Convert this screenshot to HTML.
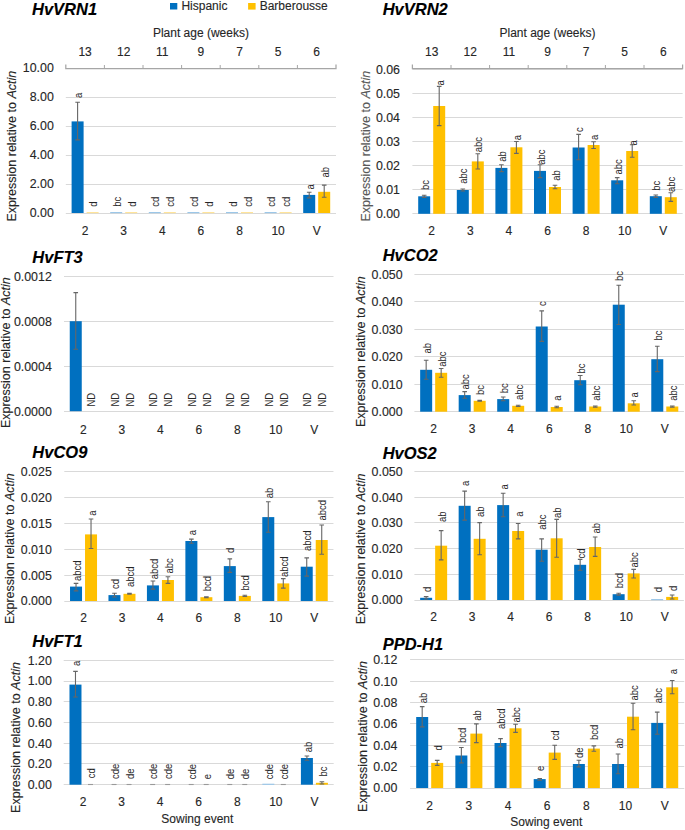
<!DOCTYPE html>
<html><head><meta charset="utf-8"><style>
html,body{margin:0;padding:0;background:#fff;width:685px;height:830px;overflow:hidden}
svg{display:block;font-family:"Liberation Sans", sans-serif}
text{stroke-width:0.12px}
</style></head><body>
<svg width="685" height="830" viewBox="0 0 685 830">
<rect width="685" height="830" fill="#fff"/>
<line x1="65.80" y1="213.50" x2="336.00" y2="213.50" stroke="#d9d9d9" stroke-width="1"/>
<text x="53.80" y="217.40" text-anchor="end" font-size="12.4" fill="#262626" stroke="#262626">0.00</text>
<line x1="65.80" y1="184.50" x2="336.00" y2="184.50" stroke="#d9d9d9" stroke-width="1"/>
<text x="53.80" y="188.40" text-anchor="end" font-size="12.4" fill="#262626" stroke="#262626">2.00</text>
<line x1="65.80" y1="155.50" x2="336.00" y2="155.50" stroke="#d9d9d9" stroke-width="1"/>
<text x="53.80" y="159.40" text-anchor="end" font-size="12.4" fill="#262626" stroke="#262626">4.00</text>
<line x1="65.80" y1="126.50" x2="336.00" y2="126.50" stroke="#d9d9d9" stroke-width="1"/>
<text x="53.80" y="130.40" text-anchor="end" font-size="12.4" fill="#262626" stroke="#262626">6.00</text>
<line x1="65.80" y1="97.50" x2="336.00" y2="97.50" stroke="#d9d9d9" stroke-width="1"/>
<text x="53.80" y="101.40" text-anchor="end" font-size="12.4" fill="#262626" stroke="#262626">8.00</text>
<line x1="65.80" y1="68.50" x2="336.00" y2="68.50" stroke="#d9d9d9" stroke-width="1"/>
<text x="53.80" y="72.40" text-anchor="end" font-size="12.4" fill="#262626" stroke="#262626">10.00</text>
<text x="32.00" y="15.30" font-size="16.5" font-weight="bold" font-style="italic" fill="#000" stroke="#000">HvVRN1</text>
<text transform="translate(16.20,146.20) rotate(-90)" text-anchor="middle" font-size="12.5" fill="#262626" stroke="#262626">Expression relative to <tspan font-style="italic">Actin</tspan></text>
<text x="85.10" y="234.70" text-anchor="middle" font-size="12" fill="#262626" stroke="#262626">2</text>
<text x="123.70" y="234.70" text-anchor="middle" font-size="12" fill="#262626" stroke="#262626">3</text>
<text x="162.30" y="234.70" text-anchor="middle" font-size="12" fill="#262626" stroke="#262626">4</text>
<text x="200.90" y="234.70" text-anchor="middle" font-size="12" fill="#262626" stroke="#262626">6</text>
<text x="239.50" y="234.70" text-anchor="middle" font-size="12" fill="#262626" stroke="#262626">8</text>
<text x="278.10" y="234.70" text-anchor="middle" font-size="12" fill="#262626" stroke="#262626">10</text>
<text x="316.70" y="234.70" text-anchor="middle" font-size="12" fill="#262626" stroke="#262626">V</text>
<rect x="71.60" y="121.40" width="12" height="91.60" fill="#0070C0"/>
<path d="M75.30 102.30H79.90M77.60 102.30V139.90M75.30 139.90H79.90" stroke="#666666" stroke-width="1.1" fill="none"/>
<text transform="translate(82.20,97.90) rotate(-90) scale(0.92,1)" font-size="10.3" fill="#262626">a</text>
<rect x="86.60" y="212.00" width="12" height="1.2" fill="#ffe49a"/>
<text transform="translate(97.20,206.80) rotate(-90) scale(0.92,1)" font-size="10.3" fill="#262626">d</text>
<rect x="110.20" y="212.00" width="12" height="1.2" fill="#9cc7e8"/>
<text transform="translate(120.80,206.80) rotate(-90) scale(0.92,1)" font-size="10.3" fill="#262626">bc</text>
<rect x="125.20" y="212.00" width="12" height="1.2" fill="#ffe49a"/>
<text transform="translate(135.80,206.80) rotate(-90) scale(0.92,1)" font-size="10.3" fill="#262626">d</text>
<rect x="148.80" y="212.00" width="12" height="1.2" fill="#9cc7e8"/>
<text transform="translate(159.40,206.80) rotate(-90) scale(0.92,1)" font-size="10.3" fill="#262626">cd</text>
<rect x="163.80" y="212.00" width="12" height="1.2" fill="#ffe49a"/>
<text transform="translate(174.40,206.80) rotate(-90) scale(0.92,1)" font-size="10.3" fill="#262626">cd</text>
<rect x="187.40" y="212.00" width="12" height="1.2" fill="#9cc7e8"/>
<text transform="translate(198.00,206.80) rotate(-90) scale(0.92,1)" font-size="10.3" fill="#262626">cd</text>
<rect x="202.40" y="212.00" width="12" height="1.2" fill="#ffe49a"/>
<text transform="translate(213.00,206.80) rotate(-90) scale(0.92,1)" font-size="10.3" fill="#262626">d</text>
<rect x="226.00" y="212.00" width="12" height="1.2" fill="#9cc7e8"/>
<text transform="translate(236.60,206.80) rotate(-90) scale(0.92,1)" font-size="10.3" fill="#262626">d</text>
<rect x="241.00" y="212.00" width="12" height="1.2" fill="#ffe49a"/>
<text transform="translate(251.60,206.80) rotate(-90) scale(0.92,1)" font-size="10.3" fill="#262626">cd</text>
<rect x="264.60" y="212.00" width="12" height="1.2" fill="#9cc7e8"/>
<text transform="translate(275.20,206.80) rotate(-90) scale(0.92,1)" font-size="10.3" fill="#262626">cd</text>
<rect x="279.60" y="212.00" width="12" height="1.2" fill="#ffe49a"/>
<text transform="translate(290.20,206.80) rotate(-90) scale(0.92,1)" font-size="10.3" fill="#262626">cd</text>
<rect x="303.20" y="194.90" width="12" height="18.10" fill="#0070C0"/>
<path d="M306.90 192.30H311.50M309.20 192.30V197.90M306.90 197.90H311.50" stroke="#666666" stroke-width="1.1" fill="none"/>
<text transform="translate(313.80,189.50) rotate(-90) scale(0.92,1)" font-size="10.3" fill="#262626">a</text>
<rect x="318.20" y="191.80" width="12" height="21.20" fill="#FFC000"/>
<path d="M321.90 185.10H326.50M324.20 185.10V197.20M321.90 197.20H326.50" stroke="#666666" stroke-width="1.1" fill="none"/>
<text transform="translate(328.80,177.50) rotate(-90) scale(0.92,1)" font-size="10.3" fill="#262626">ab</text>
<line x1="412.40" y1="213.50" x2="682.60" y2="213.50" stroke="#d9d9d9" stroke-width="1"/>
<text x="400.00" y="218.20" text-anchor="end" font-size="12.4" fill="#262626" stroke="#262626">0.00</text>
<line x1="412.40" y1="189.50" x2="682.60" y2="189.50" stroke="#d9d9d9" stroke-width="1"/>
<text x="400.00" y="194.10" text-anchor="end" font-size="12.4" fill="#262626" stroke="#262626">0.01</text>
<line x1="412.40" y1="165.50" x2="682.60" y2="165.50" stroke="#d9d9d9" stroke-width="1"/>
<text x="400.00" y="170.00" text-anchor="end" font-size="12.4" fill="#262626" stroke="#262626">0.02</text>
<line x1="412.40" y1="141.50" x2="682.60" y2="141.50" stroke="#d9d9d9" stroke-width="1"/>
<text x="400.00" y="145.90" text-anchor="end" font-size="12.4" fill="#262626" stroke="#262626">0.03</text>
<line x1="412.40" y1="117.50" x2="682.60" y2="117.50" stroke="#d9d9d9" stroke-width="1"/>
<text x="400.00" y="121.80" text-anchor="end" font-size="12.4" fill="#262626" stroke="#262626">0.04</text>
<line x1="412.40" y1="93.50" x2="682.60" y2="93.50" stroke="#d9d9d9" stroke-width="1"/>
<text x="400.00" y="97.70" text-anchor="end" font-size="12.4" fill="#262626" stroke="#262626">0.05</text>
<line x1="412.40" y1="69.50" x2="682.60" y2="69.50" stroke="#d9d9d9" stroke-width="1"/>
<text x="400.00" y="73.60" text-anchor="end" font-size="12.4" fill="#262626" stroke="#262626">0.06</text>
<text x="382.70" y="15.40" font-size="16.5" font-weight="bold" font-style="italic" fill="#000" stroke="#000">HvVRN2</text>
<text transform="translate(369.80,146.20) rotate(-90)" text-anchor="middle" font-size="12.5" fill="#595959" stroke="#595959">Expression relative to <tspan font-style="italic">Actin</tspan></text>
<text x="431.70" y="234.70" text-anchor="middle" font-size="12" fill="#262626" stroke="#262626">2</text>
<text x="470.30" y="234.70" text-anchor="middle" font-size="12" fill="#262626" stroke="#262626">3</text>
<text x="508.90" y="234.70" text-anchor="middle" font-size="12" fill="#262626" stroke="#262626">4</text>
<text x="547.50" y="234.70" text-anchor="middle" font-size="12" fill="#262626" stroke="#262626">6</text>
<text x="586.10" y="234.70" text-anchor="middle" font-size="12" fill="#262626" stroke="#262626">8</text>
<text x="624.70" y="234.70" text-anchor="middle" font-size="12" fill="#262626" stroke="#262626">10</text>
<text x="663.30" y="234.70" text-anchor="middle" font-size="12" fill="#262626" stroke="#262626">V</text>
<rect x="418.20" y="196.30" width="12" height="17.50" fill="#0070C0"/>
<path d="M421.90 195.30H426.50M424.20 195.30V197.40M421.90 197.40H426.50" stroke="#666666" stroke-width="1.1" fill="none"/>
<text transform="translate(428.80,190.10) rotate(-90) scale(0.92,1)" font-size="10.3" fill="#262626">bc</text>
<rect x="433.20" y="106.00" width="12" height="107.80" fill="#FFC000"/>
<path d="M436.90 86.40H441.50M439.20 86.40V125.60M436.90 125.60H441.50" stroke="#666666" stroke-width="1.1" fill="none"/>
<text transform="translate(443.80,85.60) rotate(-90) scale(0.92,1)" font-size="10.3" fill="#262626">a</text>
<rect x="456.80" y="190.00" width="12" height="23.80" fill="#0070C0"/>
<path d="M460.50 189.00H465.10M462.80 189.00V191.00M460.50 191.00H465.10" stroke="#666666" stroke-width="1.1" fill="none"/>
<text transform="translate(467.40,183.80) rotate(-90) scale(0.92,1)" font-size="10.3" fill="#262626">abc</text>
<rect x="471.80" y="161.40" width="12" height="52.40" fill="#FFC000"/>
<path d="M475.50 153.70H480.10M477.80 153.70V169.00M475.50 169.00H480.10" stroke="#666666" stroke-width="1.1" fill="none"/>
<text transform="translate(482.40,152.30) rotate(-90) scale(0.92,1)" font-size="10.3" fill="#262626">abc</text>
<rect x="495.40" y="167.90" width="12" height="45.90" fill="#0070C0"/>
<path d="M499.10 164.70H503.70M501.40 164.70V171.60M499.10 171.60H503.70" stroke="#666666" stroke-width="1.1" fill="none"/>
<text transform="translate(506.00,161.70) rotate(-90) scale(0.92,1)" font-size="10.3" fill="#262626">ab</text>
<rect x="510.40" y="147.30" width="12" height="66.50" fill="#FFC000"/>
<path d="M514.10 141.50H518.70M516.40 141.50V153.40M514.10 153.40H518.70" stroke="#666666" stroke-width="1.1" fill="none"/>
<text transform="translate(521.00,140.30) rotate(-90) scale(0.92,1)" font-size="10.3" fill="#262626">a</text>
<rect x="534.00" y="170.90" width="12" height="42.90" fill="#0070C0"/>
<path d="M537.70 164.70H542.30M540.00 164.70V177.60M537.70 177.60H542.30" stroke="#666666" stroke-width="1.1" fill="none"/>
<text transform="translate(544.60,164.70) rotate(-90) scale(0.92,1)" font-size="10.3" fill="#262626">abc</text>
<rect x="549.00" y="187.00" width="12" height="26.80" fill="#FFC000"/>
<path d="M552.70 185.30H557.30M555.00 185.30V188.70M552.70 188.70H557.30" stroke="#666666" stroke-width="1.1" fill="none"/>
<text transform="translate(559.60,180.80) rotate(-90) scale(0.92,1)" font-size="10.3" fill="#262626">ab</text>
<rect x="572.60" y="147.50" width="12" height="66.30" fill="#0070C0"/>
<path d="M576.30 134.40H580.90M578.60 134.40V159.70M576.30 159.70H580.90" stroke="#666666" stroke-width="1.1" fill="none"/>
<text transform="translate(583.20,131.90) rotate(-90) scale(0.92,1)" font-size="10.3" fill="#262626">c</text>
<rect x="587.60" y="145.00" width="12" height="68.80" fill="#FFC000"/>
<path d="M591.30 141.80H595.90M593.60 141.80V148.50M591.30 148.50H595.90" stroke="#666666" stroke-width="1.1" fill="none"/>
<text transform="translate(598.20,139.90) rotate(-90) scale(0.92,1)" font-size="10.3" fill="#262626">a</text>
<rect x="611.20" y="180.30" width="12" height="33.50" fill="#0070C0"/>
<path d="M614.90 177.60H619.50M617.20 177.60V183.80M614.90 183.80H619.50" stroke="#666666" stroke-width="1.1" fill="none"/>
<text transform="translate(621.80,174.60) rotate(-90) scale(0.92,1)" font-size="10.3" fill="#262626">abc</text>
<rect x="626.20" y="151.00" width="12" height="62.80" fill="#FFC000"/>
<path d="M629.90 144.80H634.50M632.20 144.80V157.20M629.90 157.20H634.50" stroke="#666666" stroke-width="1.1" fill="none"/>
<text transform="translate(636.80,145.60) rotate(-90) scale(0.92,1)" font-size="10.3" fill="#262626">a</text>
<rect x="649.80" y="196.20" width="12" height="17.60" fill="#0070C0"/>
<path d="M653.50 195.00H658.10M655.80 195.00V197.40M653.50 197.40H658.10" stroke="#666666" stroke-width="1.1" fill="none"/>
<text transform="translate(660.40,190.70) rotate(-90) scale(0.92,1)" font-size="10.3" fill="#262626">bc</text>
<rect x="664.80" y="197.20" width="12" height="16.60" fill="#FFC000"/>
<path d="M668.50 192.70H673.10M670.80 192.70V201.40M668.50 201.40H673.10" stroke="#666666" stroke-width="1.1" fill="none"/>
<text transform="translate(675.40,192.00) rotate(-90) scale(0.92,1)" font-size="10.3" fill="#262626">abc</text>
<line x1="64.00" y1="411.50" x2="333.50" y2="411.50" stroke="#d9d9d9" stroke-width="1"/>
<text x="51.80" y="415.60" text-anchor="end" font-size="12.4" fill="#262626" stroke="#262626">0.0000</text>
<line x1="64.00" y1="366.50" x2="333.50" y2="366.50" stroke="#d9d9d9" stroke-width="1"/>
<text x="51.80" y="370.60" text-anchor="end" font-size="12.4" fill="#262626" stroke="#262626">0.0004</text>
<line x1="64.00" y1="321.50" x2="333.50" y2="321.50" stroke="#d9d9d9" stroke-width="1"/>
<text x="51.80" y="325.60" text-anchor="end" font-size="12.4" fill="#262626" stroke="#262626">0.0008</text>
<line x1="64.00" y1="276.50" x2="333.50" y2="276.50" stroke="#d9d9d9" stroke-width="1"/>
<text x="51.80" y="280.60" text-anchor="end" font-size="12.4" fill="#262626" stroke="#262626">0.0012</text>
<text x="32.30" y="262.50" font-size="16.5" font-weight="bold" font-style="italic" fill="#000" stroke="#000">HvFT3</text>
<text transform="translate(9.60,352.70) rotate(-90)" text-anchor="middle" font-size="12.5" fill="#262626" stroke="#262626">Expression relative to <tspan font-style="italic">Actin</tspan></text>
<text x="83.25" y="433.50" text-anchor="middle" font-size="12" fill="#262626" stroke="#262626">2</text>
<text x="121.75" y="433.50" text-anchor="middle" font-size="12" fill="#262626" stroke="#262626">3</text>
<text x="160.25" y="433.50" text-anchor="middle" font-size="12" fill="#262626" stroke="#262626">4</text>
<text x="198.75" y="433.50" text-anchor="middle" font-size="12" fill="#262626" stroke="#262626">6</text>
<text x="237.25" y="433.50" text-anchor="middle" font-size="12" fill="#262626" stroke="#262626">8</text>
<text x="275.75" y="433.50" text-anchor="middle" font-size="12" fill="#262626" stroke="#262626">10</text>
<text x="314.25" y="433.50" text-anchor="middle" font-size="12" fill="#262626" stroke="#262626">V</text>
<rect x="69.75" y="321.20" width="12" height="90.00" fill="#0070C0"/>
<path d="M73.45 292.60H78.05M75.75 292.60V349.20M73.45 349.20H78.05" stroke="#666666" stroke-width="1.1" fill="none"/>
<text transform="translate(95.35,406.50) rotate(-90) scale(0.92,1)" font-size="10.3" fill="#262626">ND</text>
<text transform="translate(118.85,406.50) rotate(-90) scale(0.92,1)" font-size="10.3" fill="#262626">ND</text>
<text transform="translate(133.85,406.50) rotate(-90) scale(0.92,1)" font-size="10.3" fill="#262626">ND</text>
<text transform="translate(157.35,406.50) rotate(-90) scale(0.92,1)" font-size="10.3" fill="#262626">ND</text>
<text transform="translate(172.35,406.50) rotate(-90) scale(0.92,1)" font-size="10.3" fill="#262626">ND</text>
<text transform="translate(195.85,406.50) rotate(-90) scale(0.92,1)" font-size="10.3" fill="#262626">ND</text>
<text transform="translate(210.85,406.50) rotate(-90) scale(0.92,1)" font-size="10.3" fill="#262626">ND</text>
<text transform="translate(234.35,406.50) rotate(-90) scale(0.92,1)" font-size="10.3" fill="#262626">ND</text>
<text transform="translate(249.35,406.50) rotate(-90) scale(0.92,1)" font-size="10.3" fill="#262626">ND</text>
<text transform="translate(272.85,406.50) rotate(-90) scale(0.92,1)" font-size="10.3" fill="#262626">ND</text>
<text transform="translate(287.85,406.50) rotate(-90) scale(0.92,1)" font-size="10.3" fill="#262626">ND</text>
<text transform="translate(311.35,406.50) rotate(-90) scale(0.92,1)" font-size="10.3" fill="#262626">ND</text>
<text transform="translate(326.35,406.50) rotate(-90) scale(0.92,1)" font-size="10.3" fill="#262626">ND</text>
<line x1="414.40" y1="411.50" x2="684.04" y2="411.50" stroke="#d9d9d9" stroke-width="1"/>
<text x="402.60" y="416.10" text-anchor="end" font-size="12.4" fill="#262626" stroke="#262626">0.000</text>
<line x1="414.40" y1="384.50" x2="684.04" y2="384.50" stroke="#d9d9d9" stroke-width="1"/>
<text x="402.60" y="388.62" text-anchor="end" font-size="12.4" fill="#262626" stroke="#262626">0.010</text>
<line x1="414.40" y1="356.50" x2="684.04" y2="356.50" stroke="#d9d9d9" stroke-width="1"/>
<text x="402.60" y="361.14" text-anchor="end" font-size="12.4" fill="#262626" stroke="#262626">0.020</text>
<line x1="414.40" y1="329.50" x2="684.04" y2="329.50" stroke="#d9d9d9" stroke-width="1"/>
<text x="402.60" y="333.66" text-anchor="end" font-size="12.4" fill="#262626" stroke="#262626">0.030</text>
<line x1="414.40" y1="301.50" x2="684.04" y2="301.50" stroke="#d9d9d9" stroke-width="1"/>
<text x="402.60" y="306.18" text-anchor="end" font-size="12.4" fill="#262626" stroke="#262626">0.040</text>
<line x1="414.40" y1="274.50" x2="684.04" y2="274.50" stroke="#d9d9d9" stroke-width="1"/>
<text x="402.60" y="278.70" text-anchor="end" font-size="12.4" fill="#262626" stroke="#262626">0.050</text>
<text x="382.70" y="261.10" font-size="16.5" font-weight="bold" font-style="italic" fill="#000" stroke="#000">HvCO2</text>
<text transform="translate(365.40,351.65) rotate(-90)" text-anchor="middle" font-size="12.5" fill="#262626" stroke="#262626">Expression relative to <tspan font-style="italic">Actin</tspan></text>
<text x="433.66" y="433.00" text-anchor="middle" font-size="12" fill="#262626" stroke="#262626">2</text>
<text x="472.18" y="433.00" text-anchor="middle" font-size="12" fill="#262626" stroke="#262626">3</text>
<text x="510.70" y="433.00" text-anchor="middle" font-size="12" fill="#262626" stroke="#262626">4</text>
<text x="549.22" y="433.00" text-anchor="middle" font-size="12" fill="#262626" stroke="#262626">6</text>
<text x="587.74" y="433.00" text-anchor="middle" font-size="12" fill="#262626" stroke="#262626">8</text>
<text x="626.26" y="433.00" text-anchor="middle" font-size="12" fill="#262626" stroke="#262626">10</text>
<text x="664.78" y="433.00" text-anchor="middle" font-size="12" fill="#262626" stroke="#262626">V</text>
<rect x="420.16" y="369.80" width="12" height="41.90" fill="#0070C0"/>
<path d="M423.86 360.30H428.46M426.16 360.30V379.20M423.86 379.20H428.46" stroke="#666666" stroke-width="1.1" fill="none"/>
<text transform="translate(430.76,353.60) rotate(-90) scale(0.92,1)" font-size="10.3" fill="#262626">ab</text>
<rect x="435.16" y="372.80" width="12" height="38.90" fill="#FFC000"/>
<path d="M438.86 368.50H443.46M441.16 368.50V377.20M438.86 377.20H443.46" stroke="#666666" stroke-width="1.1" fill="none"/>
<text transform="translate(445.76,366.80) rotate(-90) scale(0.92,1)" font-size="10.3" fill="#262626">abc</text>
<rect x="458.68" y="395.10" width="12" height="16.60" fill="#0070C0"/>
<path d="M462.38 391.60H466.98M464.68 391.60V398.30M462.38 398.30H466.98" stroke="#666666" stroke-width="1.1" fill="none"/>
<text transform="translate(469.28,389.60) rotate(-90) scale(0.92,1)" font-size="10.3" fill="#262626">abc</text>
<rect x="473.68" y="400.80" width="12" height="10.90" fill="#FFC000"/>
<path d="M477.38 400.30H481.98M479.68 400.30V401.30M477.38 401.30H481.98" stroke="#666666" stroke-width="1.1" fill="none"/>
<text transform="translate(484.28,395.10) rotate(-90) scale(0.92,1)" font-size="10.3" fill="#262626">bc</text>
<rect x="497.20" y="399.10" width="12" height="12.60" fill="#0070C0"/>
<path d="M500.90 397.00H505.50M503.20 397.00V400.80M500.90 400.80H505.50" stroke="#666666" stroke-width="1.1" fill="none"/>
<text transform="translate(507.80,393.30) rotate(-90) scale(0.92,1)" font-size="10.3" fill="#262626">bc</text>
<rect x="512.20" y="405.80" width="12" height="5.90" fill="#FFC000"/>
<path d="M515.90 405.30H520.50M518.20 405.30V406.50M515.90 406.50H520.50" stroke="#666666" stroke-width="1.1" fill="none"/>
<text transform="translate(522.80,400.00) rotate(-90) scale(0.92,1)" font-size="10.3" fill="#262626">abc</text>
<rect x="535.72" y="326.50" width="12" height="85.20" fill="#0070C0"/>
<path d="M539.42 310.90H544.02M541.72 310.90V341.40M539.42 341.40H544.02" stroke="#666666" stroke-width="1.1" fill="none"/>
<text transform="translate(546.32,305.90) rotate(-90) scale(0.92,1)" font-size="10.3" fill="#262626">c</text>
<rect x="550.72" y="407.00" width="12" height="4.70" fill="#FFC000"/>
<path d="M554.42 406.30H559.02M556.72 406.30V407.80M554.42 407.80H559.02" stroke="#666666" stroke-width="1.1" fill="none"/>
<text transform="translate(561.32,400.80) rotate(-90) scale(0.92,1)" font-size="10.3" fill="#262626">a</text>
<rect x="574.24" y="380.20" width="12" height="31.50" fill="#0070C0"/>
<path d="M577.94 375.50H582.54M580.24 375.50V384.70M577.94 384.70H582.54" stroke="#666666" stroke-width="1.1" fill="none"/>
<text transform="translate(584.84,373.50) rotate(-90) scale(0.92,1)" font-size="10.3" fill="#262626">bc</text>
<rect x="589.24" y="406.50" width="12" height="5.20" fill="#FFC000"/>
<path d="M592.94 406.00H597.54M595.24 406.00V407.30M592.94 407.30H597.54" stroke="#666666" stroke-width="1.1" fill="none"/>
<text transform="translate(599.84,400.80) rotate(-90) scale(0.92,1)" font-size="10.3" fill="#262626">abc</text>
<rect x="612.76" y="304.70" width="12" height="107.00" fill="#0070C0"/>
<path d="M616.46 285.30H621.06M618.76 285.30V324.50M616.46 324.50H621.06" stroke="#666666" stroke-width="1.1" fill="none"/>
<text transform="translate(623.36,281.10) rotate(-90) scale(0.92,1)" font-size="10.3" fill="#262626">bc</text>
<rect x="627.76" y="403.30" width="12" height="8.40" fill="#FFC000"/>
<path d="M631.46 400.80H636.06M633.76 400.80V405.00M631.46 405.00H636.06" stroke="#666666" stroke-width="1.1" fill="none"/>
<text transform="translate(638.36,397.60) rotate(-90) scale(0.92,1)" font-size="10.3" fill="#262626">a</text>
<rect x="651.28" y="359.20" width="12" height="52.50" fill="#0070C0"/>
<path d="M654.98 346.30H659.58M657.28 346.30V371.60M654.98 371.60H659.58" stroke="#666666" stroke-width="1.1" fill="none"/>
<text transform="translate(661.88,340.60) rotate(-90) scale(0.92,1)" font-size="10.3" fill="#262626">bc</text>
<rect x="666.28" y="406.50" width="12" height="5.20" fill="#FFC000"/>
<path d="M669.98 406.00H674.58M672.28 406.00V407.20M669.98 407.20H674.58" stroke="#666666" stroke-width="1.1" fill="none"/>
<text transform="translate(676.88,400.80) rotate(-90) scale(0.92,1)" font-size="10.3" fill="#262626">abc</text>
<line x1="64.30" y1="601.50" x2="333.45" y2="601.50" stroke="#d9d9d9" stroke-width="1"/>
<text x="51.80" y="605.40" text-anchor="end" font-size="12.4" fill="#262626" stroke="#262626">0.000</text>
<line x1="64.30" y1="575.50" x2="333.45" y2="575.50" stroke="#d9d9d9" stroke-width="1"/>
<text x="51.80" y="579.54" text-anchor="end" font-size="12.4" fill="#262626" stroke="#262626">0.005</text>
<line x1="64.30" y1="549.50" x2="333.45" y2="549.50" stroke="#d9d9d9" stroke-width="1"/>
<text x="51.80" y="553.68" text-anchor="end" font-size="12.4" fill="#262626" stroke="#262626">0.010</text>
<line x1="64.30" y1="523.50" x2="333.45" y2="523.50" stroke="#d9d9d9" stroke-width="1"/>
<text x="51.80" y="527.82" text-anchor="end" font-size="12.4" fill="#262626" stroke="#262626">0.015</text>
<line x1="64.30" y1="497.50" x2="333.45" y2="497.50" stroke="#d9d9d9" stroke-width="1"/>
<text x="51.80" y="501.96" text-anchor="end" font-size="12.4" fill="#262626" stroke="#262626">0.020</text>
<line x1="64.30" y1="471.50" x2="333.45" y2="471.50" stroke="#d9d9d9" stroke-width="1"/>
<text x="51.80" y="476.10" text-anchor="end" font-size="12.4" fill="#262626" stroke="#262626">0.025</text>
<text x="32.30" y="458.30" font-size="16.5" font-weight="bold" font-style="italic" fill="#000" stroke="#000">HvCO9</text>
<text transform="translate(13.90,548.70) rotate(-90)" text-anchor="middle" font-size="12.5" fill="#262626" stroke="#262626">Expression relative to <tspan font-style="italic">Actin</tspan></text>
<text x="83.53" y="622.40" text-anchor="middle" font-size="12" fill="#262626" stroke="#262626">2</text>
<text x="121.97" y="622.40" text-anchor="middle" font-size="12" fill="#262626" stroke="#262626">3</text>
<text x="160.43" y="622.40" text-anchor="middle" font-size="12" fill="#262626" stroke="#262626">4</text>
<text x="198.88" y="622.40" text-anchor="middle" font-size="12" fill="#262626" stroke="#262626">6</text>
<text x="237.32" y="622.40" text-anchor="middle" font-size="12" fill="#262626" stroke="#262626">8</text>
<text x="275.78" y="622.40" text-anchor="middle" font-size="12" fill="#262626" stroke="#262626">10</text>
<text x="314.23" y="622.40" text-anchor="middle" font-size="12" fill="#262626" stroke="#262626">V</text>
<rect x="70.03" y="586.60" width="12" height="14.40" fill="#0070C0"/>
<path d="M73.73 583.40H78.33M76.03 583.40V590.90M73.73 590.90H78.33" stroke="#666666" stroke-width="1.1" fill="none"/>
<text transform="translate(80.62,581.00) rotate(-90) scale(0.92,1)" font-size="10.3" fill="#262626">abcd</text>
<rect x="85.03" y="534.40" width="12" height="66.60" fill="#FFC000"/>
<path d="M88.73 519.00H93.33M91.03 519.00V548.50M88.73 548.50H93.33" stroke="#666666" stroke-width="1.1" fill="none"/>
<text transform="translate(95.62,515.80) rotate(-90) scale(0.92,1)" font-size="10.3" fill="#262626">a</text>
<rect x="108.47" y="595.10" width="12" height="5.90" fill="#0070C0"/>
<path d="M112.17 593.30H116.77M114.47 593.30V597.00M112.17 597.00H116.77" stroke="#666666" stroke-width="1.1" fill="none"/>
<text transform="translate(119.07,589.10) rotate(-90) scale(0.92,1)" font-size="10.3" fill="#262626">cd</text>
<rect x="123.47" y="593.80" width="12" height="7.20" fill="#FFC000"/>
<path d="M127.17 593.30H131.78M129.47 593.30V594.30M127.17 594.30H131.78" stroke="#666666" stroke-width="1.1" fill="none"/>
<text transform="translate(134.07,587.10) rotate(-90) scale(0.92,1)" font-size="10.3" fill="#262626">abcd</text>
<rect x="146.93" y="585.40" width="12" height="15.60" fill="#0070C0"/>
<path d="M150.62 581.00H155.23M152.93 581.00V589.10M150.62 589.10H155.23" stroke="#666666" stroke-width="1.1" fill="none"/>
<text transform="translate(157.53,579.20) rotate(-90) scale(0.92,1)" font-size="10.3" fill="#262626">abcd</text>
<rect x="161.93" y="580.00" width="12" height="21.00" fill="#FFC000"/>
<path d="M165.62 576.70H170.23M167.93 576.70V583.40M165.62 583.40H170.23" stroke="#666666" stroke-width="1.1" fill="none"/>
<text transform="translate(172.53,573.60) rotate(-90) scale(0.92,1)" font-size="10.3" fill="#262626">abc</text>
<rect x="185.38" y="541.00" width="12" height="60.00" fill="#0070C0"/>
<path d="M189.07 539.10H193.68M191.38 539.10V543.20M189.07 543.20H193.68" stroke="#666666" stroke-width="1.1" fill="none"/>
<text transform="translate(195.97,535.30) rotate(-90) scale(0.92,1)" font-size="10.3" fill="#262626">a</text>
<rect x="200.38" y="597.20" width="12" height="3.80" fill="#FFC000"/>
<path d="M204.07 596.70H208.68M206.38 596.70V597.80M204.07 597.80H208.68" stroke="#666666" stroke-width="1.1" fill="none"/>
<text transform="translate(210.97,591.20) rotate(-90) scale(0.92,1)" font-size="10.3" fill="#262626">bcd</text>
<rect x="223.82" y="566.10" width="12" height="34.90" fill="#0070C0"/>
<path d="M227.52 558.90H232.12M229.82 558.90V572.40M227.52 572.40H232.12" stroke="#666666" stroke-width="1.1" fill="none"/>
<text transform="translate(234.42,552.90) rotate(-90) scale(0.92,1)" font-size="10.3" fill="#262626">d</text>
<rect x="238.82" y="595.90" width="12" height="5.10" fill="#FFC000"/>
<path d="M242.52 595.30H247.12M244.82 595.30V596.50M242.52 596.50H247.12" stroke="#666666" stroke-width="1.1" fill="none"/>
<text transform="translate(249.42,590.60) rotate(-90) scale(0.92,1)" font-size="10.3" fill="#262626">bcd</text>
<rect x="262.28" y="517.10" width="12" height="83.90" fill="#0070C0"/>
<path d="M265.98 501.70H270.58M268.28 501.70V532.20M265.98 532.20H270.58" stroke="#666666" stroke-width="1.1" fill="none"/>
<text transform="translate(272.88,498.30) rotate(-90) scale(0.92,1)" font-size="10.3" fill="#262626">ab</text>
<rect x="277.28" y="583.40" width="12" height="17.60" fill="#FFC000"/>
<path d="M280.98 578.60H285.58M283.28 578.60V588.10M280.98 588.10H285.58" stroke="#666666" stroke-width="1.1" fill="none"/>
<text transform="translate(287.88,577.10) rotate(-90) scale(0.92,1)" font-size="10.3" fill="#262626">abcd</text>
<rect x="300.73" y="566.70" width="12" height="34.30" fill="#0070C0"/>
<path d="M304.43 557.90H309.03M306.73 557.90V576.10M304.43 576.10H309.03" stroke="#666666" stroke-width="1.1" fill="none"/>
<text transform="translate(311.33,551.00) rotate(-90) scale(0.92,1)" font-size="10.3" fill="#262626">abcd</text>
<rect x="315.73" y="540.00" width="12" height="61.00" fill="#FFC000"/>
<path d="M319.43 525.00H324.03M321.73 525.00V554.20M319.43 554.20H324.03" stroke="#666666" stroke-width="1.1" fill="none"/>
<text transform="translate(326.33,520.60) rotate(-90) scale(0.92,1)" font-size="10.3" fill="#262626">abcd</text>
<line x1="414.40" y1="600.50" x2="683.90" y2="600.50" stroke="#d9d9d9" stroke-width="1"/>
<text x="402.60" y="604.40" text-anchor="end" font-size="12.4" fill="#262626" stroke="#262626">0.000</text>
<line x1="414.40" y1="574.50" x2="683.90" y2="574.50" stroke="#d9d9d9" stroke-width="1"/>
<text x="402.60" y="578.72" text-anchor="end" font-size="12.4" fill="#262626" stroke="#262626">0.010</text>
<line x1="414.40" y1="548.50" x2="683.90" y2="548.50" stroke="#d9d9d9" stroke-width="1"/>
<text x="402.60" y="553.04" text-anchor="end" font-size="12.4" fill="#262626" stroke="#262626">0.020</text>
<line x1="414.40" y1="522.50" x2="683.90" y2="522.50" stroke="#d9d9d9" stroke-width="1"/>
<text x="402.60" y="527.36" text-anchor="end" font-size="12.4" fill="#262626" stroke="#262626">0.030</text>
<line x1="414.40" y1="497.50" x2="683.90" y2="497.50" stroke="#d9d9d9" stroke-width="1"/>
<text x="402.60" y="501.68" text-anchor="end" font-size="12.4" fill="#262626" stroke="#262626">0.040</text>
<line x1="414.40" y1="471.50" x2="683.90" y2="471.50" stroke="#d9d9d9" stroke-width="1"/>
<text x="402.60" y="476.00" text-anchor="end" font-size="12.4" fill="#262626" stroke="#262626">0.050</text>
<text x="382.70" y="458.60" font-size="16.5" font-weight="bold" font-style="italic" fill="#000" stroke="#000">HvOS2</text>
<text transform="translate(365.40,548.95) rotate(-90)" text-anchor="middle" font-size="12.5" fill="#262626" stroke="#262626">Expression relative to <tspan font-style="italic">Actin</tspan></text>
<text x="433.65" y="621.40" text-anchor="middle" font-size="12" fill="#262626" stroke="#262626">2</text>
<text x="472.15" y="621.40" text-anchor="middle" font-size="12" fill="#262626" stroke="#262626">3</text>
<text x="510.65" y="621.40" text-anchor="middle" font-size="12" fill="#262626" stroke="#262626">4</text>
<text x="549.15" y="621.40" text-anchor="middle" font-size="12" fill="#262626" stroke="#262626">6</text>
<text x="587.65" y="621.40" text-anchor="middle" font-size="12" fill="#262626" stroke="#262626">8</text>
<text x="626.15" y="621.40" text-anchor="middle" font-size="12" fill="#262626" stroke="#262626">10</text>
<text x="664.65" y="621.40" text-anchor="middle" font-size="12" fill="#262626" stroke="#262626">V</text>
<rect x="420.15" y="597.80" width="12" height="2.20" fill="#0070C0"/>
<path d="M423.85 596.60H428.45M426.15 596.60V599.00M423.85 599.00H428.45" stroke="#666666" stroke-width="1.1" fill="none"/>
<text transform="translate(430.75,592.10) rotate(-90) scale(0.92,1)" font-size="10.3" fill="#262626">d</text>
<rect x="435.15" y="545.70" width="12" height="54.30" fill="#FFC000"/>
<path d="M438.85 530.60H443.45M441.15 530.60V559.90M438.85 559.90H443.45" stroke="#666666" stroke-width="1.1" fill="none"/>
<text transform="translate(445.75,521.90) rotate(-90) scale(0.92,1)" font-size="10.3" fill="#262626">ab</text>
<rect x="458.65" y="505.80" width="12" height="94.20" fill="#0070C0"/>
<path d="M462.35 491.10H466.95M464.65 491.10V520.10M462.35 520.10H466.95" stroke="#666666" stroke-width="1.1" fill="none"/>
<text transform="translate(469.25,485.90) rotate(-90) scale(0.92,1)" font-size="10.3" fill="#262626">a</text>
<rect x="473.65" y="538.80" width="12" height="61.20" fill="#FFC000"/>
<path d="M477.35 522.60H481.95M479.65 522.60V554.80M477.35 554.80H481.95" stroke="#666666" stroke-width="1.1" fill="none"/>
<text transform="translate(484.25,516.90) rotate(-90) scale(0.92,1)" font-size="10.3" fill="#262626">ab</text>
<rect x="497.15" y="505.10" width="12" height="94.90" fill="#0070C0"/>
<path d="M500.85 493.20H505.45M503.15 493.20V516.80M500.85 516.80H505.45" stroke="#666666" stroke-width="1.1" fill="none"/>
<text transform="translate(507.75,489.40) rotate(-90) scale(0.92,1)" font-size="10.3" fill="#262626">a</text>
<rect x="512.15" y="531.00" width="12" height="69.00" fill="#FFC000"/>
<path d="M515.85 523.50H520.45M518.15 523.50V538.90M515.85 538.90H520.45" stroke="#666666" stroke-width="1.1" fill="none"/>
<text transform="translate(522.75,516.70) rotate(-90) scale(0.92,1)" font-size="10.3" fill="#262626">a</text>
<rect x="535.65" y="549.70" width="12" height="50.30" fill="#0070C0"/>
<path d="M539.35 538.90H543.95M541.65 538.90V561.30M539.35 561.30H543.95" stroke="#666666" stroke-width="1.1" fill="none"/>
<text transform="translate(546.25,529.70) rotate(-90) scale(0.92,1)" font-size="10.3" fill="#262626">abc</text>
<rect x="550.65" y="538.30" width="12" height="61.70" fill="#FFC000"/>
<path d="M554.35 519.40H558.95M556.65 519.40V557.20M554.35 557.20H558.95" stroke="#666666" stroke-width="1.1" fill="none"/>
<text transform="translate(561.25,518.10) rotate(-90) scale(0.92,1)" font-size="10.3" fill="#262626">ab</text>
<rect x="574.15" y="564.80" width="12" height="35.20" fill="#0070C0"/>
<path d="M577.85 559.40H582.45M580.15 559.40V570.20M577.85 570.20H582.45" stroke="#666666" stroke-width="1.1" fill="none"/>
<text transform="translate(584.75,558.60) rotate(-90) scale(0.92,1)" font-size="10.3" fill="#262626">cd</text>
<rect x="589.15" y="547.00" width="12" height="53.00" fill="#FFC000"/>
<path d="M592.85 537.00H597.45M595.15 537.00V556.40M592.85 556.40H597.45" stroke="#666666" stroke-width="1.1" fill="none"/>
<text transform="translate(599.75,533.50) rotate(-90) scale(0.92,1)" font-size="10.3" fill="#262626">ab</text>
<rect x="612.65" y="594.20" width="12" height="5.80" fill="#0070C0"/>
<path d="M616.35 593.30H620.95M618.65 593.30V595.10M616.35 595.10H620.95" stroke="#666666" stroke-width="1.1" fill="none"/>
<text transform="translate(623.25,588.30) rotate(-90) scale(0.92,1)" font-size="10.3" fill="#262626">bcd</text>
<rect x="627.65" y="573.40" width="12" height="26.60" fill="#FFC000"/>
<path d="M631.35 569.40H635.95M633.65 569.40V578.00M631.35 578.00H635.95" stroke="#666666" stroke-width="1.1" fill="none"/>
<text transform="translate(638.25,567.50) rotate(-90) scale(0.92,1)" font-size="10.3" fill="#262626">abc</text>
<rect x="651.15" y="599.00" width="12" height="1.2" fill="#9cc7e8"/>
<text transform="translate(661.75,592.30) rotate(-90) scale(0.92,1)" font-size="10.3" fill="#262626">d</text>
<rect x="666.15" y="596.90" width="12" height="3.10" fill="#FFC000"/>
<path d="M669.85 595.00H674.45M672.15 595.00V599.00M669.85 599.00H674.45" stroke="#666666" stroke-width="1.1" fill="none"/>
<text transform="translate(676.75,591.00) rotate(-90) scale(0.92,1)" font-size="10.3" fill="#262626">d</text>
<line x1="63.70" y1="784.50" x2="333.69" y2="784.50" stroke="#d9d9d9" stroke-width="1"/>
<text x="51.80" y="789.10" text-anchor="end" font-size="12.4" fill="#262626" stroke="#262626">0.00</text>
<line x1="63.70" y1="763.50" x2="333.69" y2="763.50" stroke="#d9d9d9" stroke-width="1"/>
<text x="51.80" y="768.37" text-anchor="end" font-size="12.4" fill="#262626" stroke="#262626">0.20</text>
<line x1="63.70" y1="743.50" x2="333.69" y2="743.50" stroke="#d9d9d9" stroke-width="1"/>
<text x="51.80" y="747.63" text-anchor="end" font-size="12.4" fill="#262626" stroke="#262626">0.40</text>
<line x1="63.70" y1="722.50" x2="333.69" y2="722.50" stroke="#d9d9d9" stroke-width="1"/>
<text x="51.80" y="726.90" text-anchor="end" font-size="12.4" fill="#262626" stroke="#262626">0.60</text>
<line x1="63.70" y1="701.50" x2="333.69" y2="701.50" stroke="#d9d9d9" stroke-width="1"/>
<text x="51.80" y="706.17" text-anchor="end" font-size="12.4" fill="#262626" stroke="#262626">0.80</text>
<line x1="63.70" y1="681.50" x2="333.69" y2="681.50" stroke="#d9d9d9" stroke-width="1"/>
<text x="51.80" y="685.43" text-anchor="end" font-size="12.4" fill="#262626" stroke="#262626">1.00</text>
<line x1="63.70" y1="660.50" x2="333.69" y2="660.50" stroke="#d9d9d9" stroke-width="1"/>
<text x="51.80" y="664.70" text-anchor="end" font-size="12.4" fill="#262626" stroke="#262626">1.20</text>
<text x="32.30" y="646.80" font-size="16.5" font-weight="bold" font-style="italic" fill="#000" stroke="#000">HvFT1</text>
<text transform="translate(20.40,737.50) rotate(-90)" text-anchor="middle" font-size="12.5" fill="#262626" stroke="#262626">Expression relative to <tspan font-style="italic">Actin</tspan></text>
<text x="82.98" y="806.00" text-anchor="middle" font-size="12" fill="#262626" stroke="#262626">2</text>
<text x="121.56" y="806.00" text-anchor="middle" font-size="12" fill="#262626" stroke="#262626">3</text>
<text x="160.12" y="806.00" text-anchor="middle" font-size="12" fill="#262626" stroke="#262626">4</text>
<text x="198.69" y="806.00" text-anchor="middle" font-size="12" fill="#262626" stroke="#262626">6</text>
<text x="237.26" y="806.00" text-anchor="middle" font-size="12" fill="#262626" stroke="#262626">8</text>
<text x="275.83" y="806.00" text-anchor="middle" font-size="12" fill="#262626" stroke="#262626">10</text>
<text x="314.41" y="806.00" text-anchor="middle" font-size="12" fill="#262626" stroke="#262626">V</text>
<rect x="69.48" y="684.60" width="12" height="100.10" fill="#0070C0"/>
<path d="M73.19 671.40H77.78M75.48 671.40V697.00M73.19 697.00H77.78" stroke="#666666" stroke-width="1.1" fill="none"/>
<text transform="translate(80.08,666.00) rotate(-90) scale(0.92,1)" font-size="10.3" fill="#262626">a</text>
<path d="M87.98 784.50H92.98" stroke="#9a9a9a" stroke-width="1.1" fill="none"/>
<text transform="translate(95.08,778.20) rotate(-90) scale(0.92,1)" font-size="10.3" fill="#262626">cd</text>
<path d="M111.56 784.50H116.56" stroke="#9a9a9a" stroke-width="1.1" fill="none"/>
<text transform="translate(118.66,778.90) rotate(-90) scale(0.92,1)" font-size="10.3" fill="#262626">cde</text>
<path d="M126.56 784.50H131.56" stroke="#9a9a9a" stroke-width="1.1" fill="none"/>
<text transform="translate(133.66,778.90) rotate(-90) scale(0.92,1)" font-size="10.3" fill="#262626">de</text>
<path d="M150.12 784.50H155.12" stroke="#9a9a9a" stroke-width="1.1" fill="none"/>
<text transform="translate(157.22,778.90) rotate(-90) scale(0.92,1)" font-size="10.3" fill="#262626">cde</text>
<path d="M165.12 784.50H170.12" stroke="#9a9a9a" stroke-width="1.1" fill="none"/>
<text transform="translate(172.22,778.90) rotate(-90) scale(0.92,1)" font-size="10.3" fill="#262626">cde</text>
<path d="M188.69 784.50H193.69" stroke="#9a9a9a" stroke-width="1.1" fill="none"/>
<text transform="translate(195.79,779.20) rotate(-90) scale(0.92,1)" font-size="10.3" fill="#262626">cde</text>
<path d="M203.69 784.50H208.69" stroke="#9a9a9a" stroke-width="1.1" fill="none"/>
<text transform="translate(210.79,779.20) rotate(-90) scale(0.92,1)" font-size="10.3" fill="#262626">e</text>
<path d="M227.26 784.50H232.26" stroke="#9a9a9a" stroke-width="1.1" fill="none"/>
<text transform="translate(234.36,779.20) rotate(-90) scale(0.92,1)" font-size="10.3" fill="#262626">de</text>
<path d="M242.26 784.50H247.26" stroke="#9a9a9a" stroke-width="1.1" fill="none"/>
<text transform="translate(249.36,779.20) rotate(-90) scale(0.92,1)" font-size="10.3" fill="#262626">de</text>
<rect x="262.33" y="783.70" width="12" height="1.2" fill="#9cc7e8"/>
<text transform="translate(272.94,779.20) rotate(-90) scale(0.92,1)" font-size="10.3" fill="#262626">cde</text>
<path d="M280.83 784.50H285.83" stroke="#9a9a9a" stroke-width="1.1" fill="none"/>
<text transform="translate(287.94,779.20) rotate(-90) scale(0.92,1)" font-size="10.3" fill="#262626">cde</text>
<rect x="300.91" y="758.00" width="12" height="26.70" fill="#0070C0"/>
<path d="M304.61 756.00H309.21M306.91 756.00V760.30M304.61 760.30H309.21" stroke="#666666" stroke-width="1.1" fill="none"/>
<text transform="translate(311.51,752.20) rotate(-90) scale(0.92,1)" font-size="10.3" fill="#262626">ab</text>
<rect x="315.91" y="782.80" width="12" height="1.90" fill="#FFC000"/>
<path d="M319.61 781.80H324.21M321.91 781.80V784.00M319.61 784.00H324.21" stroke="#666666" stroke-width="1.1" fill="none"/>
<text transform="translate(326.51,776.40) rotate(-90) scale(0.92,1)" font-size="10.3" fill="#262626">bc</text>
<line x1="410.10" y1="788.50" x2="684.29" y2="788.50" stroke="#d9d9d9" stroke-width="1"/>
<text x="397.40" y="792.40" text-anchor="end" font-size="12.4" fill="#262626" stroke="#262626">0.00</text>
<line x1="410.10" y1="766.50" x2="684.29" y2="766.50" stroke="#d9d9d9" stroke-width="1"/>
<text x="397.40" y="771.03" text-anchor="end" font-size="12.4" fill="#262626" stroke="#262626">0.02</text>
<line x1="410.10" y1="745.50" x2="684.29" y2="745.50" stroke="#d9d9d9" stroke-width="1"/>
<text x="397.40" y="749.67" text-anchor="end" font-size="12.4" fill="#262626" stroke="#262626">0.04</text>
<line x1="410.10" y1="723.50" x2="684.29" y2="723.50" stroke="#d9d9d9" stroke-width="1"/>
<text x="397.40" y="728.30" text-anchor="end" font-size="12.4" fill="#262626" stroke="#262626">0.06</text>
<line x1="410.10" y1="702.50" x2="684.29" y2="702.50" stroke="#d9d9d9" stroke-width="1"/>
<text x="397.40" y="706.93" text-anchor="end" font-size="12.4" fill="#262626" stroke="#262626">0.08</text>
<line x1="410.10" y1="681.50" x2="684.29" y2="681.50" stroke="#d9d9d9" stroke-width="1"/>
<text x="397.40" y="685.57" text-anchor="end" font-size="12.4" fill="#262626" stroke="#262626">0.10</text>
<line x1="410.10" y1="659.50" x2="684.29" y2="659.50" stroke="#d9d9d9" stroke-width="1"/>
<text x="397.40" y="664.20" text-anchor="end" font-size="12.4" fill="#262626" stroke="#262626">0.12</text>
<text x="382.70" y="649.90" font-size="16.5" font-weight="bold" font-style="italic" fill="#000" stroke="#000">PPD-H1</text>
<text transform="translate(366.90,736.55) rotate(-90)" text-anchor="middle" font-size="12.5" fill="#262626" stroke="#262626">Expression relative to <tspan font-style="italic">Actin</tspan></text>
<text x="429.69" y="810.00" text-anchor="middle" font-size="12" fill="#262626" stroke="#262626">2</text>
<text x="468.86" y="810.00" text-anchor="middle" font-size="12" fill="#262626" stroke="#262626">3</text>
<text x="508.03" y="810.00" text-anchor="middle" font-size="12" fill="#262626" stroke="#262626">4</text>
<text x="547.20" y="810.00" text-anchor="middle" font-size="12" fill="#262626" stroke="#262626">6</text>
<text x="586.37" y="810.00" text-anchor="middle" font-size="12" fill="#262626" stroke="#262626">8</text>
<text x="625.54" y="810.00" text-anchor="middle" font-size="12" fill="#262626" stroke="#262626">10</text>
<text x="664.71" y="810.00" text-anchor="middle" font-size="12" fill="#262626" stroke="#262626">V</text>
<rect x="416.19" y="717.00" width="12" height="71.00" fill="#0070C0"/>
<path d="M419.88 706.60H424.49M422.19 706.60V726.90M419.88 726.90H424.49" stroke="#666666" stroke-width="1.1" fill="none"/>
<text transform="translate(426.79,703.30) rotate(-90) scale(0.92,1)" font-size="10.3" fill="#262626">ab</text>
<rect x="431.19" y="762.90" width="12" height="25.10" fill="#FFC000"/>
<path d="M434.88 760.40H439.49M437.19 760.40V765.40M434.88 765.40H439.49" stroke="#666666" stroke-width="1.1" fill="none"/>
<text transform="translate(441.79,750.50) rotate(-90) scale(0.92,1)" font-size="10.3" fill="#262626">d</text>
<rect x="455.36" y="755.50" width="12" height="32.50" fill="#0070C0"/>
<path d="M459.06 747.50H463.66M461.36 747.50V762.90M459.06 762.90H463.66" stroke="#666666" stroke-width="1.1" fill="none"/>
<text transform="translate(465.96,743.00) rotate(-90) scale(0.92,1)" font-size="10.3" fill="#262626">bcd</text>
<rect x="470.36" y="733.60" width="12" height="54.40" fill="#FFC000"/>
<path d="M474.06 723.90H478.66M476.36 723.90V742.60M474.06 742.60H478.66" stroke="#666666" stroke-width="1.1" fill="none"/>
<text transform="translate(480.96,720.70) rotate(-90) scale(0.92,1)" font-size="10.3" fill="#262626">ab</text>
<rect x="494.53" y="743.00" width="12" height="45.00" fill="#0070C0"/>
<path d="M498.23 738.60H502.83M500.53 738.60V746.80M498.23 746.80H502.83" stroke="#666666" stroke-width="1.1" fill="none"/>
<text transform="translate(505.13,728.90) rotate(-90) scale(0.92,1)" font-size="10.3" fill="#262626">abcd</text>
<rect x="509.53" y="728.30" width="12" height="59.70" fill="#FFC000"/>
<path d="M513.23 724.30H517.83M515.53 724.30V732.40M513.23 732.40H517.83" stroke="#666666" stroke-width="1.1" fill="none"/>
<text transform="translate(520.13,722.40) rotate(-90) scale(0.92,1)" font-size="10.3" fill="#262626">abc</text>
<rect x="533.70" y="779.10" width="12" height="8.90" fill="#0070C0"/>
<path d="M537.40 778.50H542.00M539.70 778.50V780.20M537.40 780.20H542.00" stroke="#666666" stroke-width="1.1" fill="none"/>
<text transform="translate(544.30,771.00) rotate(-90) scale(0.92,1)" font-size="10.3" fill="#262626">e</text>
<rect x="548.70" y="752.60" width="12" height="35.40" fill="#FFC000"/>
<path d="M552.40 745.30H557.00M554.70 745.30V759.40M552.40 759.40H557.00" stroke="#666666" stroke-width="1.1" fill="none"/>
<text transform="translate(559.30,740.50) rotate(-90) scale(0.92,1)" font-size="10.3" fill="#262626">cd</text>
<rect x="572.87" y="764.00" width="12" height="24.00" fill="#0070C0"/>
<path d="M576.57 760.20H581.16M578.87 760.20V766.90M576.57 766.90H581.16" stroke="#666666" stroke-width="1.1" fill="none"/>
<text transform="translate(583.47,758.00) rotate(-90) scale(0.92,1)" font-size="10.3" fill="#262626">de</text>
<rect x="587.87" y="748.60" width="12" height="39.40" fill="#FFC000"/>
<path d="M591.57 745.90H596.16M593.87 745.90V751.30M591.57 751.30H596.16" stroke="#666666" stroke-width="1.1" fill="none"/>
<text transform="translate(598.47,739.90) rotate(-90) scale(0.92,1)" font-size="10.3" fill="#262626">bcd</text>
<rect x="612.04" y="764.00" width="12" height="24.00" fill="#0070C0"/>
<path d="M615.74 754.00H620.34M618.04 754.00V773.70M615.74 773.70H620.34" stroke="#666666" stroke-width="1.1" fill="none"/>
<text transform="translate(622.64,748.60) rotate(-90) scale(0.92,1)" font-size="10.3" fill="#262626">ab</text>
<rect x="627.04" y="716.70" width="12" height="71.30" fill="#FFC000"/>
<path d="M630.74 703.20H635.34M633.04 703.20V729.70M630.74 729.70H635.34" stroke="#666666" stroke-width="1.1" fill="none"/>
<text transform="translate(637.64,700.50) rotate(-90) scale(0.92,1)" font-size="10.3" fill="#262626">abc</text>
<rect x="651.21" y="722.90" width="12" height="65.10" fill="#0070C0"/>
<path d="M654.91 712.10H659.50M657.21 712.10V734.30M654.91 734.30H659.50" stroke="#666666" stroke-width="1.1" fill="none"/>
<text transform="translate(661.81,703.20) rotate(-90) scale(0.92,1)" font-size="10.3" fill="#262626">abc</text>
<rect x="666.21" y="687.30" width="12" height="100.70" fill="#FFC000"/>
<path d="M669.91 680.50H674.50M672.21 680.50V693.70M669.91 693.70H674.50" stroke="#666666" stroke-width="1.1" fill="none"/>
<text transform="translate(676.81,674.30) rotate(-90) scale(0.92,1)" font-size="10.3" fill="#262626">a</text>
<path d="M65.80 64.6V68.6H336.00V64.6" stroke="#a6a6a6" stroke-width="1.25" fill="none"/>
<line x1="104.40" y1="65" x2="104.40" y2="68.6" stroke="#a6a6a6" stroke-width="1"/>
<line x1="143.00" y1="65" x2="143.00" y2="68.6" stroke="#a6a6a6" stroke-width="1"/>
<line x1="181.60" y1="65" x2="181.60" y2="68.6" stroke="#a6a6a6" stroke-width="1"/>
<line x1="220.20" y1="65" x2="220.20" y2="68.6" stroke="#a6a6a6" stroke-width="1"/>
<line x1="258.80" y1="65" x2="258.80" y2="68.6" stroke="#a6a6a6" stroke-width="1"/>
<line x1="297.40" y1="65" x2="297.40" y2="68.6" stroke="#a6a6a6" stroke-width="1"/>
<text x="85.10" y="56.2" text-anchor="middle" font-size="12" fill="#262626" stroke="#262626">13</text>
<text x="123.70" y="56.2" text-anchor="middle" font-size="12" fill="#262626" stroke="#262626">12</text>
<text x="162.30" y="56.2" text-anchor="middle" font-size="12" fill="#262626" stroke="#262626">11</text>
<text x="200.90" y="56.2" text-anchor="middle" font-size="12" fill="#262626" stroke="#262626">9</text>
<text x="239.50" y="56.2" text-anchor="middle" font-size="12" fill="#262626" stroke="#262626">7</text>
<text x="278.10" y="56.2" text-anchor="middle" font-size="12" fill="#262626" stroke="#262626">5</text>
<text x="316.70" y="56.2" text-anchor="middle" font-size="12" fill="#262626" stroke="#262626">6</text>
<text x="200.90" y="36.5" text-anchor="middle" font-size="12" fill="#262626" stroke="#262626">Plant age (weeks)</text>
<path d="M412.40 64.6V68.6H682.60V64.6" stroke="#a6a6a6" stroke-width="1.25" fill="none"/>
<line x1="451.00" y1="65" x2="451.00" y2="68.6" stroke="#a6a6a6" stroke-width="1"/>
<line x1="489.60" y1="65" x2="489.60" y2="68.6" stroke="#a6a6a6" stroke-width="1"/>
<line x1="528.20" y1="65" x2="528.20" y2="68.6" stroke="#a6a6a6" stroke-width="1"/>
<line x1="566.80" y1="65" x2="566.80" y2="68.6" stroke="#a6a6a6" stroke-width="1"/>
<line x1="605.40" y1="65" x2="605.40" y2="68.6" stroke="#a6a6a6" stroke-width="1"/>
<line x1="644.00" y1="65" x2="644.00" y2="68.6" stroke="#a6a6a6" stroke-width="1"/>
<text x="431.70" y="56.2" text-anchor="middle" font-size="12" fill="#262626" stroke="#262626">13</text>
<text x="470.30" y="56.2" text-anchor="middle" font-size="12" fill="#262626" stroke="#262626">12</text>
<text x="508.90" y="56.2" text-anchor="middle" font-size="12" fill="#262626" stroke="#262626">11</text>
<text x="547.50" y="56.2" text-anchor="middle" font-size="12" fill="#262626" stroke="#262626">9</text>
<text x="586.10" y="56.2" text-anchor="middle" font-size="12" fill="#262626" stroke="#262626">7</text>
<text x="624.70" y="56.2" text-anchor="middle" font-size="12" fill="#262626" stroke="#262626">5</text>
<text x="663.30" y="56.2" text-anchor="middle" font-size="12" fill="#262626" stroke="#262626">6</text>
<text x="547.50" y="36.5" text-anchor="middle" font-size="12" fill="#262626" stroke="#262626">Plant age (weeks)</text>
<rect x="170" y="3" width="7.3" height="6.5" fill="#0070C0"/>
<text x="181.4" y="9.8" font-size="12" fill="#262626" stroke="#262626">Hispanic</text>
<rect x="248.1" y="3" width="7.5" height="6.6" fill="#FFC000"/>
<text x="259.7" y="9.7" font-size="12" fill="#262626" stroke="#262626">Barberousse</text>
<text x="161.3" y="822.5" font-size="12" fill="#262626" stroke="#262626">Sowing event</text>
<text x="510.3" y="825.5" font-size="12" fill="#262626" stroke="#262626">Sowing event</text>
</svg></body></html>
